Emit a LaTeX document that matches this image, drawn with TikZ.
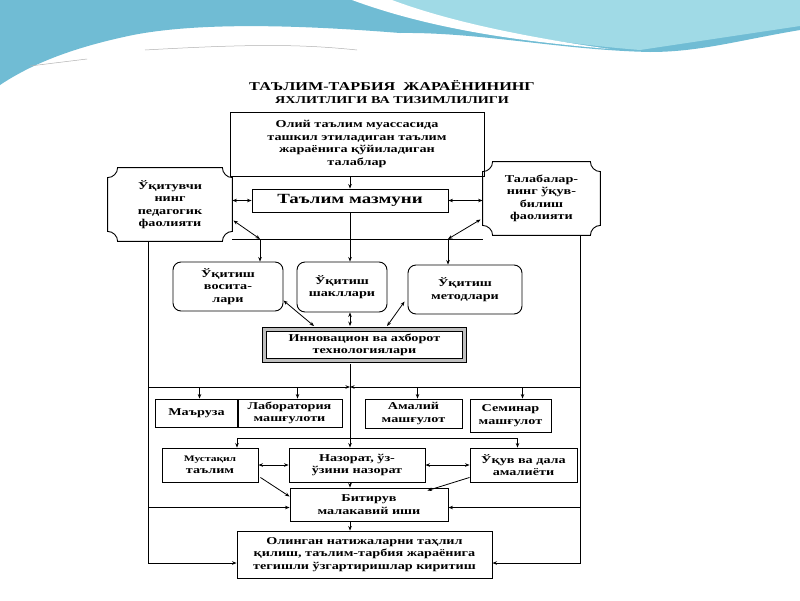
\documentclass[tikz,border=0pt]{standalone}
\usepackage{fontspec}
\setmainfont{Liberation Serif}[FakeStretch=1.35]
\usetikzlibrary{arrows.meta,calc}
\definecolor{waveblue}{RGB}{112,188,212}
\definecolor{wavecyan}{RGB}{160,218,230}
\begin{document}
\begin{tikzpicture}[x=1pt,y=-1pt,line width=0.8pt,>={Stealth[length=4.5pt,width=3.5pt]},
  every node/.style={font=\bfseries\fontsize{10.5}{12.5}\selectfont,align=center,inner sep=0pt},
  box/.style={draw,line width=0.9pt},
  roundbox/.style={draw,line width=0.9pt,rounded corners=8pt},
  ictbox/.style={draw,line width=0.9pt,double=gray!50,double distance=3pt}]
\useasboundingbox (0,0) rectangle (800,600);
\fill[white] (0,0) rectangle (800,600);
% waves on top
\fill[waveblue] (0,0) -- (800,0) -- (800,30) .. controls (740,40) and (700,52) .. (650,52)
  .. controls (560,50) and (480,32) .. (400,33) .. controls (300,25) and (200,22) .. (133,35)
  .. controls (70,48) and (30,65) .. (0,85) -- cycle;
\fill[wavecyan] (390,0) .. controls (450,25) and (540,42) .. (640,50) -- (800,26) -- (800,0) -- cycle;
\fill[white] (352,0) .. controls (420,25) and (500,40) .. (610,49) .. controls (510,35) and (440,18) .. (392,0) -- cycle;
\draw[gray!60,line width=0.5pt] (145,50) .. controls (250,44) and (300,44) .. (357,50);
\draw[gray!60,line width=0.5pt] (30,66) -- (87,59);
% title
\node (title) at(392,92){\fontsize{12}{14}\selectfont ТАЪЛИМ-ТАРБИЯ\ \ ЖАРАЁНИНИНГ\\ЯХЛИТЛИГИ ВА ТИЗИМЛИЛИГИ};
% boxes
\node[box,minimum width=254,minimum height=64] (req) at(357,144){Олий таълим муассасида\\ташкил этиладиган таълим\\жараёнига қўйиладиган\\талаблар};
\node[box,minimum width=196,minimum height=23] (content) at(350,200.5){\fontsize{14}{16}\selectfont Таълим мазмуни};
\node[minimum width=124,minimum height=73] (teacher) at(170,204.5){Ўқитувчи\\нинг\\педагогик\\фаолияти};
\node[minimum width=117,minimum height=73] (student) at(541.5,198.5){Талабалар-\\нинг ўқув-\\билиш\\фаолияти};
\foreach \n in {teacher,student}
  \draw[line width=0.9pt] ([yshift=-10]\n.north west) .. controls ([xshift=5.5,yshift=-10]\n.north west) and ([xshift=10,yshift=-5.5]\n.north west) .. ([xshift=10]\n.north west)
    -- ([xshift=-10]\n.north east) .. controls ([xshift=-10,yshift=-5.5]\n.north east) and ([xshift=-5.5,yshift=-10]\n.north east) .. ([yshift=-10]\n.north east)
    -- ([yshift=10]\n.south east) .. controls ([xshift=-5.5,yshift=10]\n.south east) and ([xshift=-10,yshift=5.5]\n.south east) .. ([xshift=-10]\n.south east)
    -- ([xshift=10]\n.south west) .. controls ([xshift=10,yshift=5.5]\n.south west) and ([xshift=5.5,yshift=10]\n.south west) .. ([yshift=10]\n.south west)
    -- cycle;
\node[roundbox,minimum width=110,minimum height=49] (means) at(228,286.5){Ўқитиш\\восита-\\лари};
\node[roundbox,minimum width=90,minimum height=50] (forms) at(342,287){Ўқитиш\\шакллари};
\node[roundbox,minimum width=114,minimum height=49] (methods) at(465,289.5){Ўқитиш\\методлари};
\node[ictbox,minimum width=200,minimum height=31] (ict) at(364.5,345){Инновацион ва ахборот\\технологиялари};
\node[box,minimum width=83,minimum height=28] (lecture) at(196.5,413){Маъруза};
\node[box,minimum width=105,minimum height=28] (lab) at(289.5,413){Лаборатория\\машғулоти};
\node[box,minimum width=97,minimum height=29] (practice) at(413.5,413.5){Амалий\\машғулот};
\node[box,minimum width=81,minimum height=33] (seminar) at(510.5,415.5){Семинар\\машғулот};
\node[box,minimum width=96,minimum height=34] (selfstudy) at(210,465){\fontsize{8.5}{10}\selectfont Мустақил\\таълим};
\node[box,minimum width=136,minimum height=34] (control) at(357,465){Назорат, ўз-\\ўзини назорат};
\node[box,minimum width=107,minimum height=34] (fieldwork) at(523.5,465){Ўқув ва дала\\амалиёти};
\node[box,minimum width=158,minimum height=33] (thesis) at(369,504.5){Битирув\\малакавий иши};
\node[box,minimum width=255,minimum height=47] (result) at(364.5,554.5){Олинган натижаларни таҳлил\\қилиш, таълим-тарбия жараёнига\\тегишли ўзгартиришлар киритиш};
% helper points
\coordinate (lt) at(260,239);
\coordinate (rt) at(448,239);
\coordinate (mid) at(350,387);
\coordinate (branch) at(350,438);
\coordinate (lbot) at(148,563);
\coordinate (rbot) at(580,563);
% connectors
\draw[->] (content.north |- req.south) -- (content.north);
\draw[<->] (content.west) -- (content.west -| teacher.east);
\draw[<->] (content.east) -- (content.east -| student.west);
\draw[->] (content.south) -- (content.south |- forms.north);
\draw (teacher.east |- lt) -- (student.west |- lt);
\draw[<->] ($(teacher.east)+(1,16)$) -- (lt);
\draw[<->] ($(student.west)+(-2,21)$) -- (rt);
\draw[->] (lt) -- (lt |- means.north);
\draw[->] (rt) -- (rt |- methods.north);
\draw[<->] ($(means.east)+(0,14)$) -- ($(ict.north west)+(50,-3)$);
\draw[<->] (forms.south -| content) -- ($(ict.north -| content)+(0,-3)$);
\draw[<->] ($(methods.west)+(-3,12)$) -- ($(ict.north west)+(123,-3)$);
\draw[->] ($(ict.south -| content)+(0,3)$) -- (control.north -| content);
\draw[->] (lbot |- teacher.south) -- (lbot) -- (lbot -| result.west);
\draw[->] (rbot |- student.south) -- (rbot) -- (rbot -| result.east);
\draw[->] (mid -| lbot) -- (mid);
\draw[->] (mid -| rbot) -- (mid);
\foreach \n/\d in {lecture/3,lab/8,practice/4,seminar/12}
  \draw[->] ($(\n.north |- mid)+(\d,0)$) -- ($(\n.north)+(\d,0)$);
\draw[->] (branch) -| ($(selfstudy.north)+(27,0)$);
\draw[->] (branch) -| ($(fieldwork.north)+(-6,0)$);
\draw[<->] (selfstudy.east) -- (selfstudy.east -| control.west);
\draw[<->] (control.east) -- (control.east -| fieldwork.west);
\draw[->] ($(selfstudy.south east)+(2,-5)$) -- ($(thesis.west)+(0,-8)$);
\draw[->] ($(fieldwork.south west)+(0,-5)$) -- ($(thesis.north east)+(-21,3)$);
\draw[->] (control.south -| content) -- (thesis.north -| content);
\draw[->] ($(thesis.west -| lbot)+(0,3)$) -- ($(thesis.west)+(0,3)$);
\draw[->] ($(thesis.east -| rbot)+(0,3)$) -- ($(thesis.east)+(0,3)$);
\draw[->] (thesis.south -| content) -- (result.north -| content);
\end{tikzpicture}
\end{document}
